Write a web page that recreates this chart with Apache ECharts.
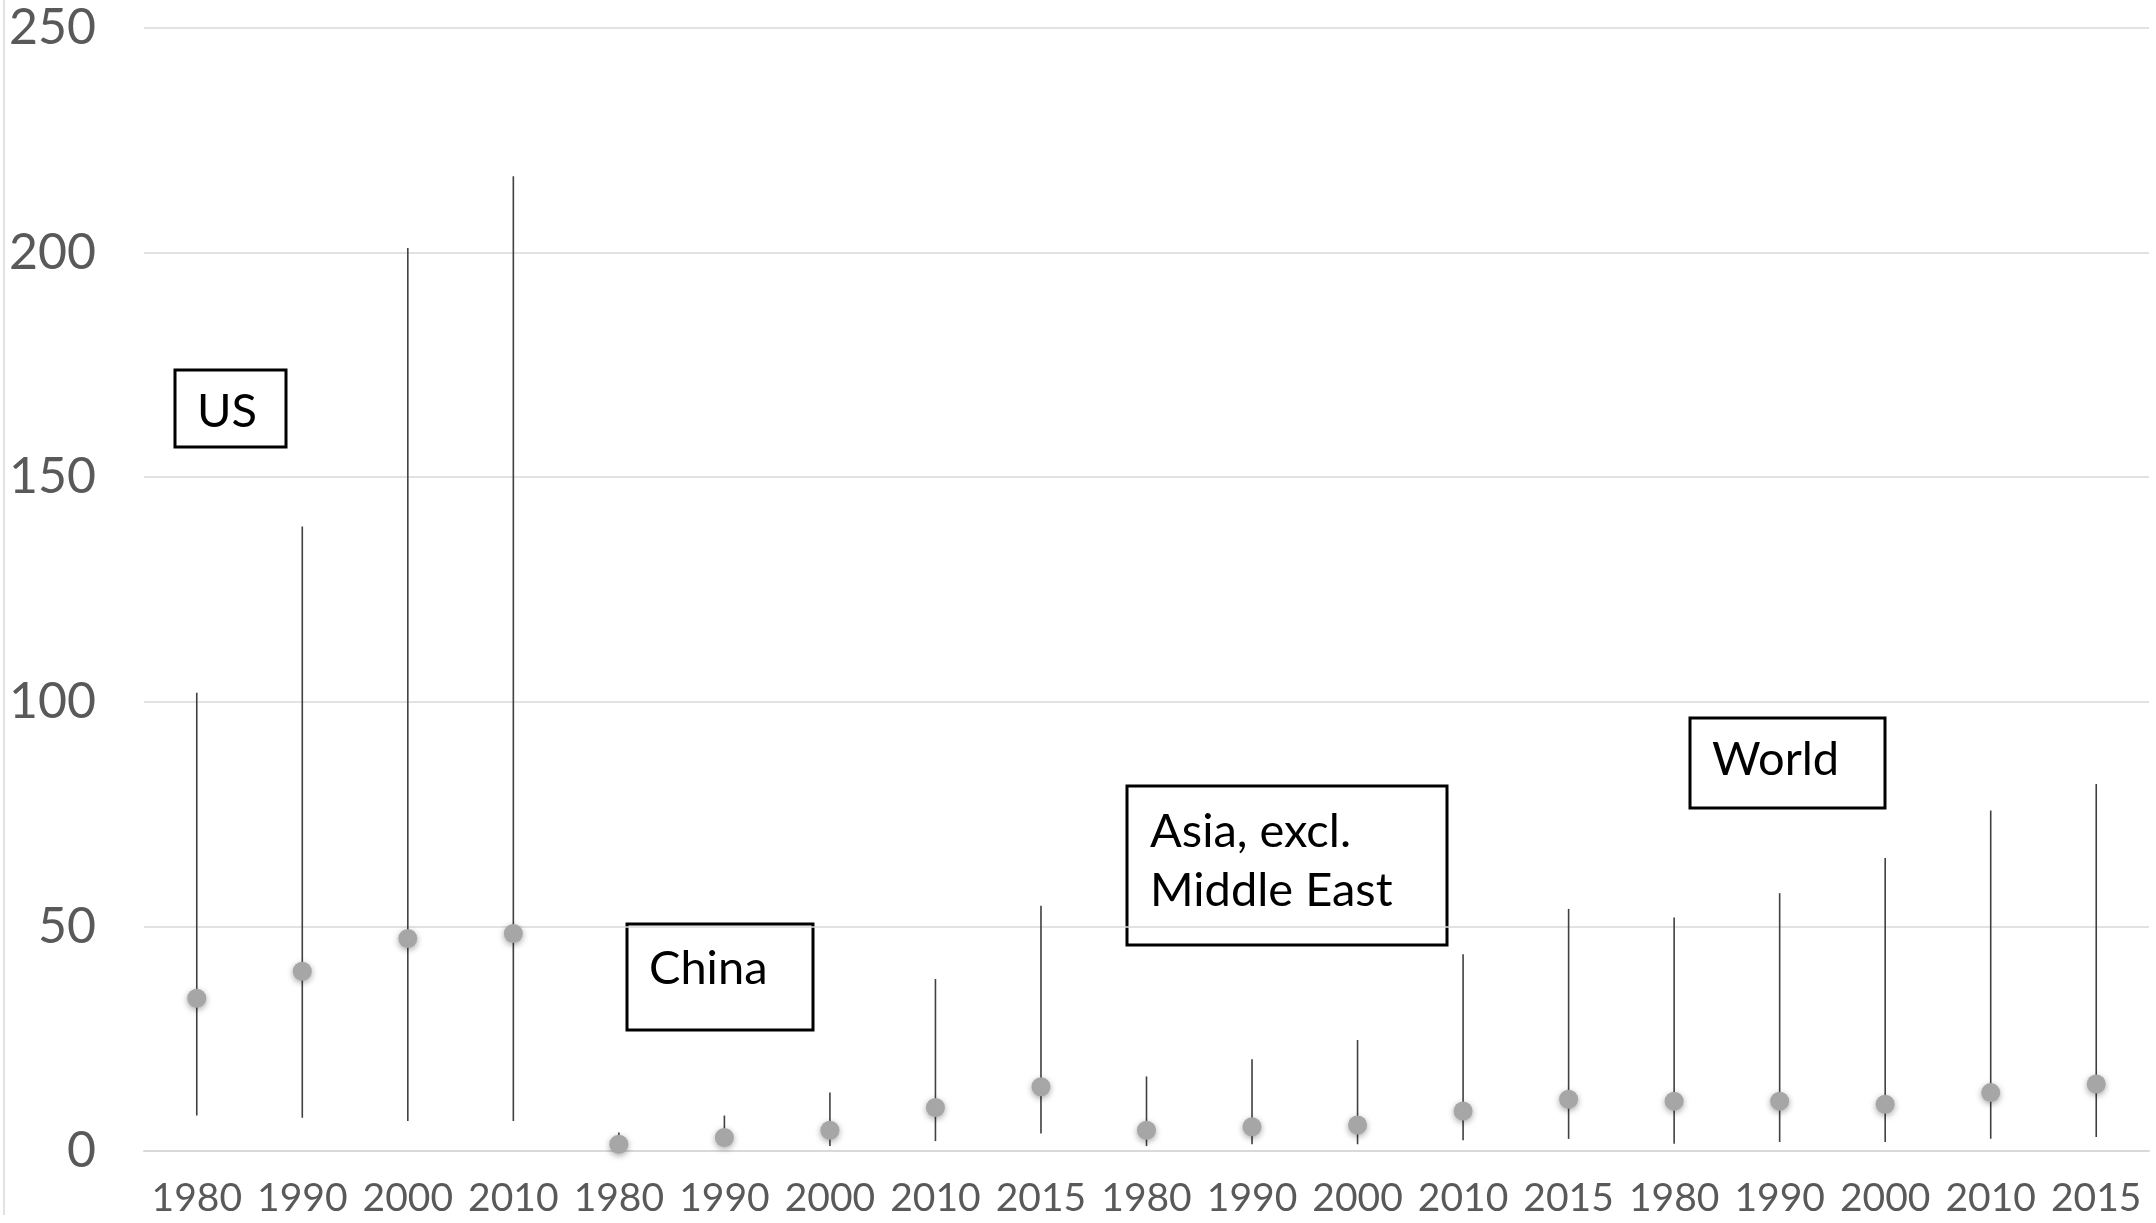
<!DOCTYPE html>
<html>
<head>
<meta charset="utf-8">
<script src="https://cdn.jsdelivr.net/npm/echarts@6/dist/echarts.min.js"></script>
<style>
html,body{margin:0;padding:0;background:#fff;}
#main{width:2156px;height:1223px;}
</style>
</head>
<body>
<div id="main"></div>
<script>
// ---- data ----
const groups = ['US','US','US','US','China','China','China','China','China','Asia','Asia','Asia','Asia','Asia','World','World','World','World','World'];
const years  = ['1980','1990','2000','2010','1980','1990','2000','2010','2015','1980','1990','2000','2010','2015','1980','1990','2000','2010','2015'];
const lowValues  = [7.9, 7.4, 6.7, 6.7, 0.5, 1.1, 1.1, 2.2, 3.9, 1.1, 1.5, 1.5, 2.4, 2.7, 1.6, 2.0, 2.0, 2.7, 3.1];
const highValues = [102, 139, 201, 217, 4.1, 7.9, 13.0, 38.3, 54.6, 16.6, 20.4, 24.7, 43.8, 53.9, 52.0, 57.4, 65.2, 75.8, 81.7];
const midValues  = [34.0, 40.0, 47.3, 48.4, 1.5, 3.0, 4.6, 9.7, 14.3, 4.6, 5.4, 5.8, 8.9, 11.5, 11.1, 11.1, 10.4, 13.0, 14.9];
const yTicks = [0, 50, 100, 150, 200, 250];

const categories = years.map((y, i) => groups[i] + '|' + y);
const rangeData = lowValues.map((lo, i) => [i, lo, highValues[i]]);
const midData = midValues.map((v, i) => [i, v]);

const FONT = 'Lato, "Open Sans", sans-serif';
const chart = echarts.init(document.getElementById('main'));

function box(x, y, w, h, lines, tx, ty, lh) {
  const children = [{
    type: 'rect',
    shape: {x: x, y: y, width: w, height: h},
    style: {fill: '#fff', stroke: '#000', lineWidth: 3}
  }];
  lines.forEach((t, k) => {
    children.push({
      type: 'text',
      style: {
        x: tx, y: ty + k * lh, text: t, fill: '#000',
        font: '47px ' + FONT, textVerticalAlign: 'middle', textAlign: 'left'
      }
    });
  });
  return {type: 'group', z: 100, children: children};
}

chart.setOption({
  animation: false,
  backgroundColor: '#fff',
  grid: {left: 144, right: 7, top: 28, bottom: 72, containLabel: false},
  xAxis: {
    type: 'category',
    data: categories,
    boundaryGap: true,
    axisLine: {show: true, lineStyle: {color: '#d9d9d9', width: 2}},
    axisTick: {show: false},
    axisLabel: {
      interval: 0, margin: 28, fontSize: 39, color: '#595959', fontFamily: FONT,
      formatter: v => v.split('|')[1]
    },
    splitLine: {show: false}
  },
  yAxis: {
    type: 'value',
    min: yTicks[0], max: yTicks[yTicks.length - 1], interval: 50,
    axisLine: {show: false},
    axisTick: {show: false},
    axisLabel: {margin: 48, fontSize: 50, color: '#595959', fontFamily: FONT},
    splitLine: {lineStyle: {color: '#d9d9d9', width: 1.5}}
  },
  series: [
    {
      type: 'custom',
      data: rangeData,
      encode: {x: 0, y: [1, 2]},
      renderItem: function (params, api) {
        const a = api.coord([api.value(0), api.value(1)]);
        const b = api.coord([api.value(0), api.value(2)]);
        return {
          type: 'line',
          shape: {x1: a[0], y1: a[1], x2: b[0], y2: b[1]},
          style: {stroke: '#404040', lineWidth: 1.6}
        };
      },
      z: 2
    },
    {
      type: 'scatter',
      data: midData,
      symbol: 'circle',
      symbolSize: 19,
      itemStyle: {
        color: '#a6a6a6', opacity: 1,
        shadowBlur: 6, shadowColor: 'rgba(0,0,0,0.35)', shadowOffsetY: 2
      },
      z: 3
    }
  ],
  graphic: [
    {type: 'line', shape: {x1: 4, y1: 0, x2: 4, y2: 1215}, style: {stroke: '#d9d9d9', lineWidth: 1.5}},
    box(175, 370, 111, 77, ['US'], 197, 412, 0),
    box(627, 924, 186, 106, ['China'], 649, 969, 0),
    box(1127, 786, 320, 159, ['Asia, excl.', 'Middle East'], 1150, 832, 59),
    box(1690, 718, 195, 90, ['World'], 1712, 760, 0)
  ]
});
</script>
</body>
</html>
